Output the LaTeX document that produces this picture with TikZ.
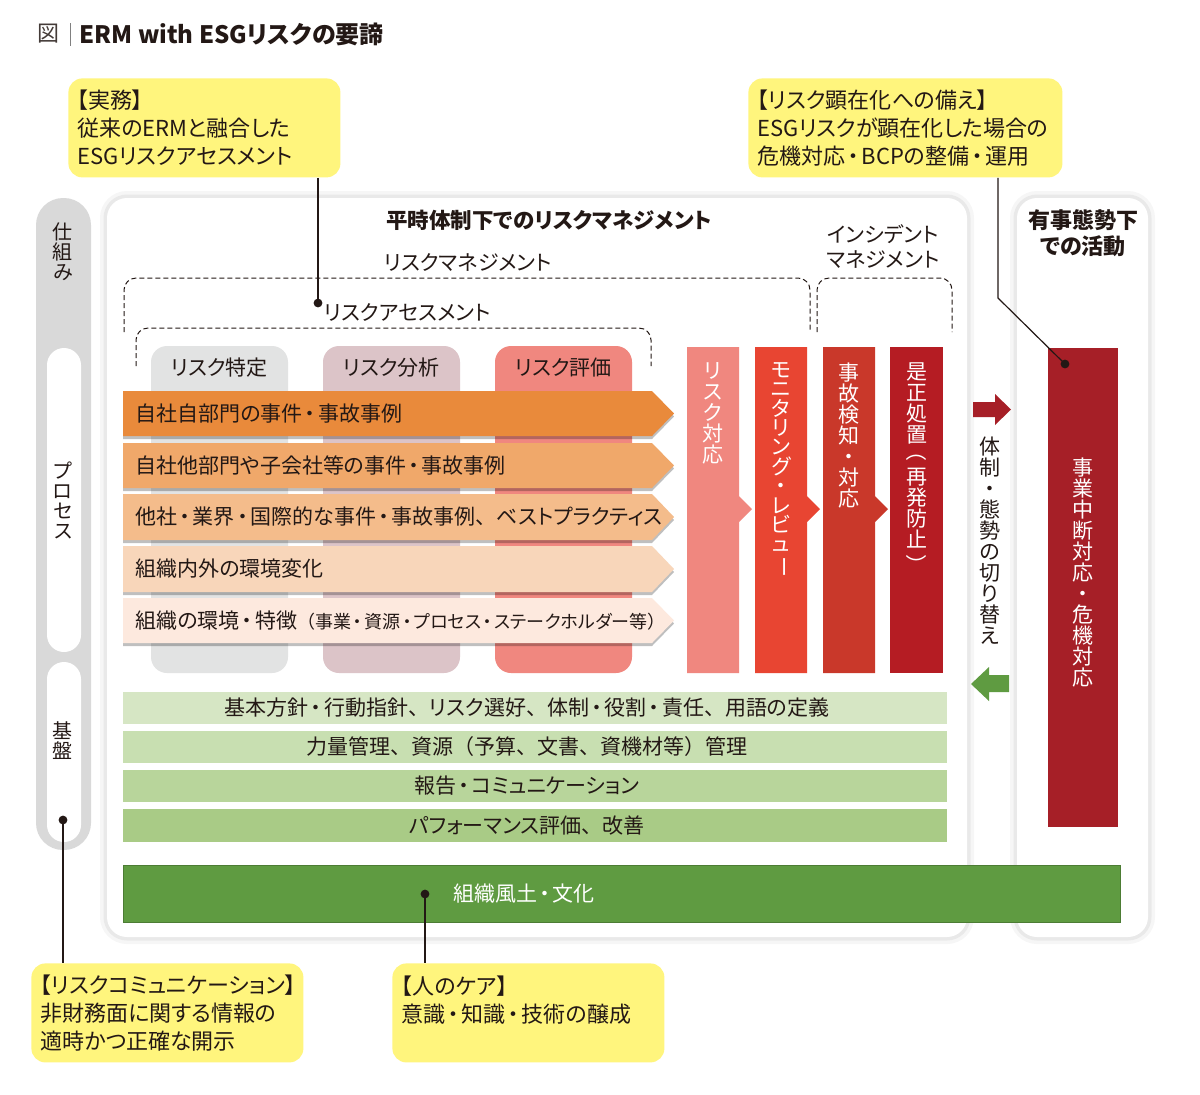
\documentclass[tikz,border=0pt]{standalone}
\usepackage{fontspec}
\usepackage{graphicx}
\setmainfont{Noto Sans CJK JP}[RawFeature={+palt}]
\newfontfamily\fullw{Noto Sans CJK JP}
\usetikzlibrary{shadows}

\definecolor{txt}{RGB}{35,24,21}
\definecolor{memo}{RGB}{255,245,125}
\definecolor{pill}{RGB}{217,217,217}
\definecolor{colA}{RGB}{226,227,227}
\definecolor{colB}{RGB}{220,196,200}
\definecolor{colC}{RGB}{240,135,127}
\definecolor{rowA}{RGB}{233,138,59}
\definecolor{rowB}{RGB}{240,168,106}
\definecolor{rowC}{RGB}{244,188,139}
\definecolor{rowD}{RGB}{248,214,186}
\definecolor{rowE}{RGB}{253,233,222}
\definecolor{barA}{RGB}{240,135,127}
\definecolor{barB}{RGB}{232,69,50}
\definecolor{barC}{RGB}{201,56,42}
\definecolor{barD}{RGB}{181,28,35}
\definecolor{crisis}{RGB}{166,31,39}
\definecolor{grnA}{RGB}{214,230,196}
\definecolor{grnB}{RGB}{200,223,177}
\definecolor{grnC}{RGB}{184,213,155}
\definecolor{grnD}{RGB}{169,203,134}
\definecolor{culture}{RGB}{95,155,65}

% punctuation widths, proportional kana
\catcode`・=\active \def・{\kern.12em\char"30FB\kern.12em}
\catcode`、=\active \def、{{\fullw\char"3001}}
\catcode`（=\active \def（{{\fullw\char"FF08}}
\catcode`）=\active \def）{{\fullw\char"FF09}}
\newcommand\tate[1]{\rotatebox[origin=c]{-90}{#1}}
\newcommand\tightlines{\lineskiplimit=-10pt\relax}

\begin{document}
\begin{tikzpicture}[x=0.5pt, y=-0.5pt,
    every node/.style={text=txt, inner sep=0pt},
    memo/.style={fill=memo, rounded corners=7pt, anchor=north west, align=left,
                 inner xsep=4.5pt, minimum height=49.5pt,
                 font=\fontsize{11}{14}\selectfont},
    panel/.style={fill=white, rounded corners=10pt,
                  preaction={draw=black, opacity=.035, line width=7pt},
                  preaction={draw=black, opacity=.05, line width=3.5pt}},
    colbox/.style={rounded corners=8pt},
    bracket/.style={draw=txt, line width=.5pt, dash pattern=on 2.5pt off 1.5pt, rounded corners=6pt},
    label/.style={font=\fontsize{10.5}{12.5}\selectfont, align=center},
    tatebox/.style={font=\fontsize{10.5}{10.5}\selectfont, align=center, anchor=north},
    pilltext/.style={font=\fontsize{10}{10}\selectfont, align=center, anchor=north},
    rowtext/.style={font=\fontsize{10.5}{12}\selectfont, anchor=west},
    rowshadow/.style={drop shadow={shadow xshift=0pt, shadow yshift=-1.5pt, opacity=.25, fill=black}},
    leader/.style={draw=txt, line width=.6pt},
    dot/.style={fill=txt}]

\fill[white] (0,0) rectangle (1200,1094);
\useasboundingbox (0,0) rectangle (1200,1094);

% title
\node[font=\fontsize{11}{12}\selectfont, text=txt!85] (zu) at (48,34) {図};
\draw[gray, line width=.5pt] (70,23) -- (70,46);
\node[font=\bfseries\fontsize{12}{14}\selectfont, anchor=west] (title) at (79,34) {ERM with ESGリスクの要諦};

% panels
\path[panel] (107,198) rectangle (967,937);
\path[panel] (1017,198) rectangle (1148,937);
\node[font=\bfseries\fontsize{10.75}{12}\selectfont] (heiji) at (549,220) {平時体制下でのリスクマネジメント};
\node[font=\bfseries\fontsize{11}{13}\selectfont, align=center] (yuji) at (1083,233) {有事態勢下\\での活動};

% left pill
\path[fill=pill, rounded corners=13.5pt] (36,198) rectangle (91,850);
\path[fill=white, rounded corners=8.5pt] (47,348) rectangle (81,652);
\path[fill=white, rounded corners=8.5pt] (47,662) rectangle (81,842);
\node[pilltext] (shikumi) at (63,222) {仕\\組\\み};
\node[pilltext] (process) at (63,461) {プ\\ロ\\セ\\ス};
\node[pilltext] (kiban) at (63,721) {基\\盤};

% brackets
\draw[bracket] (124,332) |- (810,278) -- (810,332);
\draw[bracket] (817,332) |- (952,278) -- (952,332);
\draw[bracket] (136,366) |- (651,328) -- (651,366);
\node[label] (rm) at (468,262) {リスクマネジメント};
\node[label] (im) at (883,247) {インシデント\\マネジメント};
\node[label, anchor=west] (ra) at (324,312) {リスクアセスメント};

% assessment columns
\path[colbox, fill=colA] (151,346) rectangle (288,673);
\path[colbox, fill=colB] (323,346) rectangle (460,673);
\path[colbox, fill=colC] (495,346) rectangle (632,673);
\node[label] (tokutei) at (219.5,368) {リスク特定};
\node[label] (bunseki) at (391.5,368) {リスク分析};
\node[label] (hyoka) at (563.5,368) {リスク評価};

% source rows
\fill[rowA, rowshadow] (123,391) -- (652,391) -- (674,413.5) -- (652,436) -- (123,436) -- cycle;
\fill[rowB, rowshadow] (123,443) -- (652,443) -- (674,465.5) -- (652,488) -- (123,488) -- cycle;
\fill[rowC, rowshadow] (123,494) -- (652,494) -- (674,517) -- (652,540) -- (123,540) -- cycle;
\fill[rowD, rowshadow] (123,546) -- (652,546) -- (674,569) -- (652,592) -- (123,592) -- cycle;
\fill[rowE, rowshadow] (123,598) -- (652,598) -- (674,620.5) -- (652,643) -- (123,643) -- cycle;
\node[rowtext] (jirei1) at (135,413.5) {自社自部門の事件・事故事例};
\node[rowtext] (jirei2) at (135,465.5) {自社他部門や子会社等の事件・事故事例};
\node[rowtext] (jirei3) at (135,517) {他社・業界・国際的な事件・事故事例、ベストプラクティス};
\node[rowtext] (henka) at (135,569) {組織内外の環境変化};
\node[rowtext] (tokucho) at (135,620.5) {組織の環境・特徴{\fontsize{9}{10}\selectfont（事業・資源・プロセス・ステークホルダー等）}};

% response bars
\fill[barA] (687,347) rectangle (739,673) (739,496) -- (752,509) -- (739,522) -- cycle;
\fill[barB] (755,347) rectangle (807,673) (807,496) -- (820,509) -- (807,522) -- cycle;
\fill[barC] (823,347) rectangle (875,673) (875,496) -- (888,509) -- (875,522) -- cycle;
\fill[barD] (890,347) rectangle (943,673);
\node[tatebox, text=white] (taio) at (713,362) {リ\\ス\\ク\\対\\応};
\node[tatebox, text=white, font=\fontsize{10.5}{9.7}\selectfont\tightlines]
  (monitor) at (781,362) {モ\\ニ\\タ\\リ\\ン\\グ\\・\\レ\\ビ\\ュ\\\tate{ー}};
\node[tatebox, text=white] (kenchi) at (849,362) {事\\故\\検\\知\\・\\対\\応};
\node[tatebox, text=white] (zesei) at (916.5,362) {是\\正\\処\\置\\\tate{\char"FF08}\\再\\発\\防\\止\\\tate{\char"FF09}};

% switch between modes
\fill[crisis] (973,402) -- (995,402) -- (995,394) -- (1011,409.5) -- (995,425) -- (995,417) -- (973,417) -- cycle;
\fill[culture] (1009,675) -- (989,675) -- (989,667) -- (971,684) -- (989,701) -- (989,692) -- (1009,692) -- cycle;
\node[tatebox] (kirikae) at (990,437) {体\\制\\・\\態\\勢\\の\\切\\り\\替\\え};

% crisis bar
\fill[crisis] (1048,348) rectangle (1118,827);
\node[tatebox, text=white] (kiki) at (1083,457) {事\\業\\中\\断\\対\\応\\・\\危\\機\\対\\応};

% foundation
\fill[grnA] (123,692) rectangle (947,724);
\fill[grnB] (123,731) rectangle (947,763);
\fill[grnC] (123,770) rectangle (947,802);
\fill[grnD] (123,809) rectangle (947,842);
\node[label] (kihon) at (527,708) {基本方針・行動指針、リスク選好、体制・役割・責任、用語の定義};
\node[label] (shigen) at (527,747) {力量管理、資源（予算、文書、資機材等）管理};
\node[label] (hokoku) at (527,786) {報告・コミュニケーション};
\node[label] (kaizen) at (527,825.5) {パフォーマンス評価、改善};
\fill[culture, draw=culture!80!black, line width=.5pt] (123,865) rectangle (1120,922);
\node[label, text=white] (fudo) at (524,894) {組織風土・文化};

% call-outs
\node[memo, text width=127pt] (jitsumu) at (68,78) {【実務】\\従来のERMと融合した\\ESGリスクアセスメント};
\node[memo, text width=148pt] (sonae) at (748,78) {【リスク顕在化への備え】\\ESGリスクが顕在化した場合の\\危機対応・BCPの整備・運用};
\node[memo, text width=127pt] (riskcom) at (31,963) {【リスクコミュニケーション】\\非財務面に関する情報の\\適時かつ正確な開示};
\node[memo, text width=127pt] (hito) at (392,963) {【人のケア】\\意識・知識・技術の醸成\\\mbox{}};

\coordinate (d1) at (318,303);
\coordinate (k2) at (998,298);
\coordinate (d2) at (1065,364);
\coordinate (d3) at (63,820);
\coordinate (d4) at (425,894);
\draw[leader] (jitsumu.south -| d1) -- (d1);
\draw[leader] (sonae.south -| k2) -- (k2) -- (d2);
\draw[leader] (d3) -- (riskcom.north -| d3);
\draw[leader] (d4) -- (hito.north -| d4);
\fill[dot] (d1) circle (2.2pt) (d2) circle (2.2pt) (d3) circle (2.2pt) (d4) circle (2.2pt);
\end{tikzpicture}
\end{document}
